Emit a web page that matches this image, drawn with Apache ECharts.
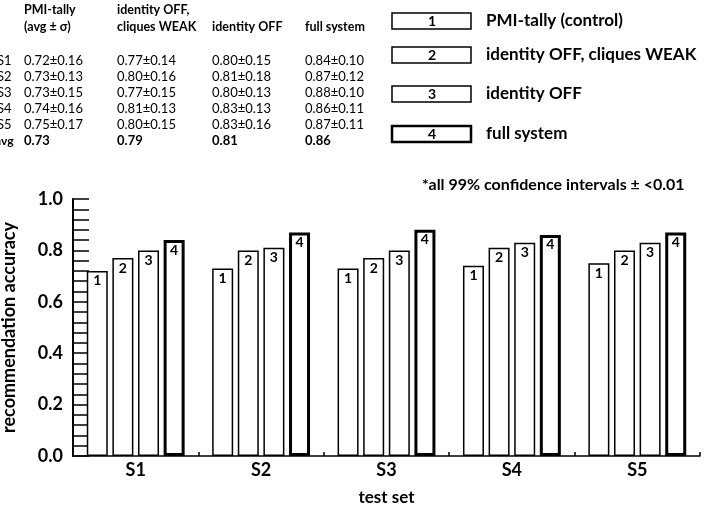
<!DOCTYPE html>
<html>
<head>
<meta charset="utf-8">
<script src="https://cdn.jsdelivr.net/npm/echarts@6/dist/echarts.min.js"></script>
<style>
html,body{margin:0;padding:0;background:#fff;}
#chart{width:705px;height:507px;}
</style>
</head>
<body>
<div id="chart"></div>
<script>
// ---- data ----
const categories = ['S1', 'S2', 'S3', 'S4', 'S5'];
const seriesNames = ['PMI-tally (control)', 'identity OFF, cliques WEAK', 'identity OFF', 'full system'];
const tableHeaders = [['PMI-tally', '(avg \u00b1 \u03c3)'], ['identity OFF,', 'cliques WEAK'], ['', 'identity OFF'], ['', 'full system']];
const pmiTally   = [0.72, 0.73, 0.73, 0.74, 0.75];
const pmiTallySd = [0.16, 0.13, 0.15, 0.16, 0.17];
const cliquesWeak   = [0.77, 0.80, 0.77, 0.81, 0.80];
const cliquesWeakSd = [0.14, 0.16, 0.15, 0.13, 0.15];
const identityOff   = [0.80, 0.81, 0.80, 0.83, 0.83];
const identityOffSd = [0.15, 0.18, 0.13, 0.13, 0.16];
const fullSystem   = [0.84, 0.87, 0.88, 0.86, 0.87];
const fullSystemSd = [0.10, 0.12, 0.10, 0.11, 0.11];
const averages = [0.73, 0.79, 0.81, 0.86];
const yTicks = [0, 0.2, 0.4, 0.6, 0.8, 1.0];
const footnote = '*all 99% confidence intervals \u00b1 <0.01';

// ---- build ----
const FONT = 'Lato, "Open Sans", sans-serif';
const means = [pmiTally, cliquesWeak, identityOff, fullSystem];
const sds = [pmiTallySd, cliquesWeakSd, identityOffSd, fullSystemSd];
const fmt = (m, s) => m.toFixed(2) + '\u00b1' + s.toFixed(2);

const graphic = [];
const colX = [24, 117, 212, 305];
// table headers
tableHeaders.forEach((h, j) => {
  h.forEach((line, k) => {
    if (!line) return;
    graphic.push({type: 'text', x: colX[j], y: 10 + k * 17,
      style: {text: line, font: 'bold 12.5px ' + FONT, fill: '#000', textVerticalAlign: 'middle'}});
  });
});
// table rows
categories.forEach((c, i) => {
  const y = 61 + i * 16;
  graphic.push({type: 'text', x: -3, y: y,
    style: {text: c, font: '13px ' + FONT, fill: '#000', textVerticalAlign: 'middle'}});
  means.forEach((arr, j) => {
    graphic.push({type: 'text', x: colX[j], y: y,
      style: {text: fmt(arr[i], sds[j][i]), font: '13px ' + FONT, fill: '#000', textVerticalAlign: 'middle'}});
  });
});
{
  const y = 61 + categories.length * 16;
  graphic.push({type: 'text', x: -5, y: y,
    style: {text: 'avg', font: 'bold 12px ' + FONT, fill: '#000', textVerticalAlign: 'middle'}});
  averages.forEach((a, j) => {
    graphic.push({type: 'text', x: colX[j], y: y,
      style: {text: a.toFixed(2), font: 'bold 13px ' + FONT, fill: '#000', textVerticalAlign: 'middle'}});
  });
}
// legend boxes
const legTops = [13, 47, 86, 126];
seriesNames.forEach((name, i) => {
  graphic.push({type: 'rect', shape: {x: 392, y: legTops[i], width: 79, height: 16},
    style: {fill: '#fff', stroke: '#000', lineWidth: i === 3 ? 2.5 : 1.5}});
  graphic.push({type: 'text', x: 432, y: legTops[i] + 8,
    style: {text: String(i + 1), font: 'bold 14px ' + FONT, fill: '#000', textAlign: 'center', textVerticalAlign: 'middle'}});
  graphic.push({type: 'text', x: 486, y: legTops[i] + 8,
    style: {text: name, font: 'bold 17px ' + FONT, fill: '#000', textVerticalAlign: 'middle'}});
});
graphic.push({type: 'text', x: 422, y: 185,
  style: {text: footnote, font: 'bold 16px ' + FONT, fill: '#000', textVerticalAlign: 'middle'}});

const series = means.map((arr, i) => ({
  name: seriesNames[i],
  type: 'bar',
  data: arr,
  barWidth: 21,
  barGap: '22%',
  itemStyle: {color: '#fff', borderColor: '#000', borderWidth: i === 3 ? 3 : 1.5},
  label: {show: true, position: 'insideTop', distance: 3, formatter: String(i + 1),
    fontFamily: FONT, fontWeight: 'bold', fontSize: 14, color: '#000'},
  emphasis: {disabled: true}
}));

const chart = echarts.init(document.getElementById('chart'), null, {renderer: 'canvas'});
chart.setOption({
  animation: false,
  backgroundColor: '#fff',
  textStyle: {fontFamily: FONT},
  grid: {left: 73, right: 5, top: 199, bottom: 51, containLabel: false, outerBoundsMode: 'none'},
  xAxis: {
    type: 'category', data: categories,
    name: 'test set', nameLocation: 'middle', nameGap: 33,
    nameTextStyle: {fontFamily: FONT, fontWeight: 'bold', fontSize: 17, color: '#000'},
    axisLine: {lineStyle: {color: '#000', width: 1.5}},
    axisTick: {show: true, inside: true, length: 4, lineStyle: {color: '#000', width: 1.5}},
    axisLabel: {fontFamily: FONT, fontWeight: 'bold', fontSize: 18, color: '#000', margin: 5},
    splitLine: {show: false}
  },
  yAxis: {
    type: 'value', min: yTicks[0], max: yTicks[yTicks.length - 1], interval: yTicks[1] - yTicks[0],
    name: 'recommendation accuracy', nameLocation: 'middle', nameGap: 55,
    nameTextStyle: {fontFamily: FONT, fontWeight: 'bold', fontSize: 18, color: '#000'},
    axisLine: {show: true, lineStyle: {color: '#000', width: 2}},
    axisTick: {show: true, inside: true, length: 16, lineStyle: {color: '#000', width: 1.5}},
    minorTick: {show: true, splitNumber: 5, length: 16, lineStyle: {color: '#000', width: 1.5}},
    axisLabel: {fontFamily: FONT, fontWeight: 'bold', fontSize: 18, color: '#000', margin: 10,
      formatter: v => v.toFixed(1)},
    splitLine: {show: false},
    minorSplitLine: {show: false}
  },
  graphic: graphic,
  series: series
});
</script>
</body>
</html>
